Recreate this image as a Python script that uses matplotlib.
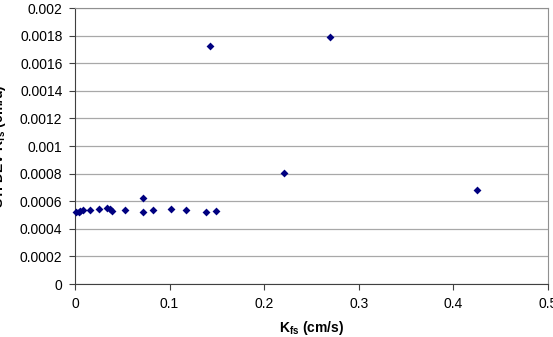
import matplotlib
matplotlib.use("Agg")
import matplotlib.pyplot as plt
from matplotlib.ticker import FuncFormatter

plt.rcParams["font.family"] = ["Liberation Sans", "DejaVu Sans"]
plt.rcParams["mathtext.fontset"] = "custom"
plt.rcParams["mathtext.rm"] = "Liberation Sans"
plt.rcParams["mathtext.bf"] = "Liberation Sans:bold"

# K_fs (cm/s) vs standard deviation of K_fs (cm/d)
kfs = [0.001, 0.004, 0.0055, 0.008, 0.0159, 0.0257, 0.0335, 0.037, 0.039,
       0.0529, 0.0715, 0.0715, 0.0828, 0.1015, 0.117, 0.1385, 0.149,
       0.1427, 0.2696, 0.2206, 0.4256]
st_dev = [0.00052, 0.000525, 0.000532, 0.000536, 0.000539, 0.000543, 0.000555,
          0.000543, 0.000531, 0.000539, 0.000623, 0.000522, 0.000534, 0.000543,
          0.000539, 0.00052, 0.000529, 0.001725, 0.001792, 0.000807, 0.000681]

y_ticks = [0, 0.0002, 0.0004, 0.0006, 0.0008, 0.001, 0.0012, 0.0014,
           0.0016, 0.0018, 0.002]
x_ticks = [0, 0.1, 0.2, 0.3, 0.4, 0.5]

fig = plt.figure(figsize=(5.53, 3.37), dpi=100)
ax = fig.add_axes([0.1356, 0.157, 0.855, 0.819])

ax.scatter(kfs, st_dev, marker="D", s=16, color="#000080", zorder=3,
           linewidths=0, clip_on=False)

ax.set_xlim(0, 0.5)
ax.set_ylim(0, 0.002)
ax.set_xticks(x_ticks)
ax.set_yticks(y_ticks)
ax.xaxis.set_major_formatter(FuncFormatter(lambda v, p: f"{v:g}"))
ax.yaxis.set_major_formatter(FuncFormatter(lambda v, p: f"{v:.4f}".rstrip("0").rstrip(".") if v else "0"))
ax.tick_params(axis="both", labelsize=10, direction="out", length=4,
               color="#404040", pad=5)

ax.yaxis.grid(True, color="#a8a8a8", linewidth=0.9)
ax.set_axisbelow(True)
for side in ["left", "bottom"]:
    ax.spines[side].set_color("#404040")
for side in ["top", "right"]:
    ax.spines[side].set_color("#909090")

ax.set_xlabel(r"K$_{\mathbf{fs}}$ (cm/s)", fontsize=10, fontweight="bold", labelpad=6)
ax.set_ylabel(r"ST. DEV K$_{\mathbf{fs}}$ (cm/d)", fontsize=10, fontweight="bold")
ax.yaxis.set_label_coords(-0.142, 0.5)

fig.savefig("out.png", dpi=100)
